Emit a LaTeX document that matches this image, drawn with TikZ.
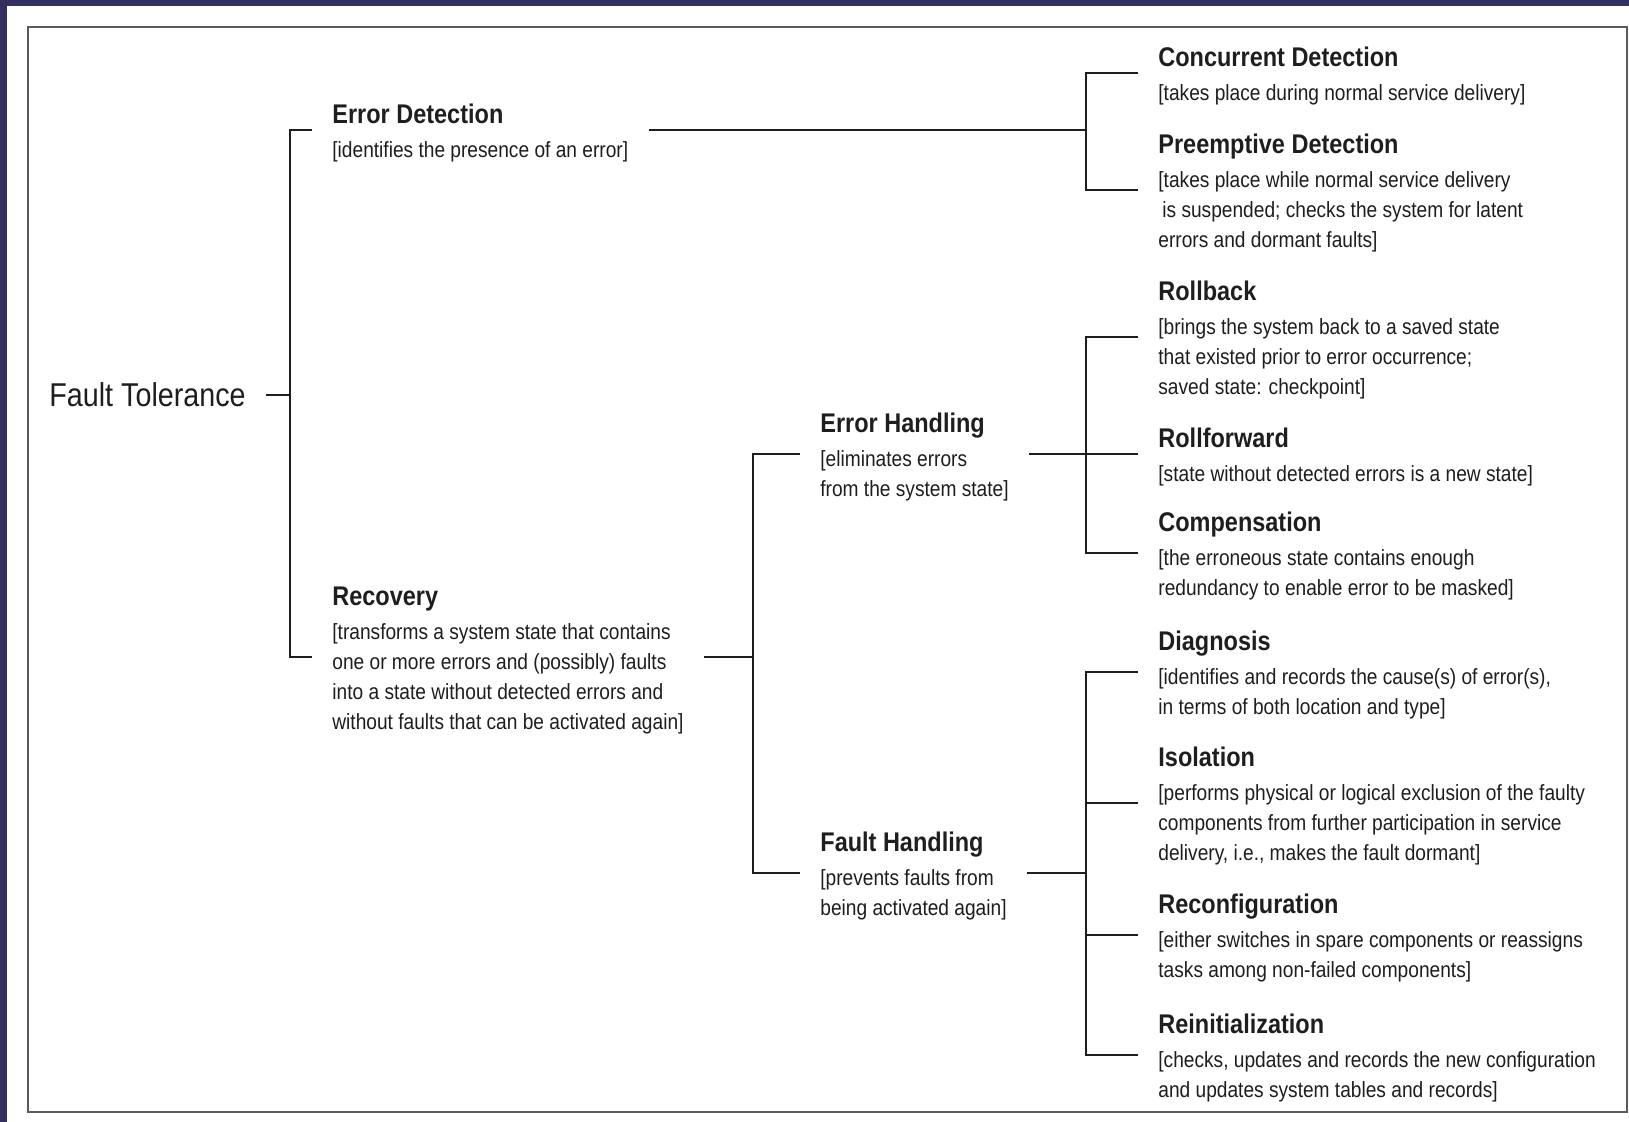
\documentclass[tikz,border=0pt]{standalone}
\usepackage{fontspec}
\setmainfont[FakeStretch=0.87]{Liberation Sans}
\usetikzlibrary{positioning}

\definecolor{navy}{HTML}{33305F}
\definecolor{framegray}{HTML}{5A5A5A}
\definecolor{ink}{HTML}{1E1E1E}

\newcommand{\hd}[1]{{\fontsize{13.5}{17}\selectfont\bfseries\rule{0pt}{13pt}#1}\\[2pt]}

\tikzset{
  item/.style={anchor=west, inner xsep=10pt, inner ysep=0pt, align=left,
    text=ink, font=\fontsize{11}{15}\selectfont},
  link/.style={draw=ink, line width=1pt},
}

\begin{document}
\begin{tikzpicture}[x=0.5pt, y=-0.5pt]
  % background and frame
  \useasboundingbox (0,0) rectangle (1629,1122);
  \fill[navy] (0,0) rectangle (1629,1122);
  \fill[white] (7,6) rectangle (1629,1122);
  \draw[framegray, line width=1.3pt] (28,27) rectangle (1627,1112);

  % root
  \node[item, font=\fontsize{16.5}{20}\selectfont] (ft) at (29,395) {Fault Tolerance};

  % second level
  \node[item] (ed) at (312,130) {\hd{Error Detection}[identifies the presence of an error]};
  \node[item] (rc) at (312,657) {\hd{Recovery}[transforms a system state that contains\\
    one or more errors and (possibly) faults\\
    into a state without detected errors and\\
    without faults that can be activated again]};

  % third level
  \node[item] (eh) at (800,454) {\hd{Error Handling}[eliminates errors\\from the system state]};
  \node[item] (fh) at (800,873) {\hd{Fault Handling}[prevents faults from\\being activated again]};

  % leaves
  \node[item] (cd) at (1138,73) {\hd{Concurrent Detection}[takes place during normal service delivery]};
  \node[item] (pd) at (1138,190) {\hd{Preemptive Detection}[takes place while normal service delivery\\
    \hspace{2pt}is suspended; checks the system for latent\\
    errors and dormant faults]};
  \node[item] (rb) at (1138,337) {\hd{Rollback}[brings the system back to a saved state\\
    that existed prior to error occurrence;\\
    saved state: checkpoint]};
  \node[item] (rf) at (1138,454) {\hd{Rollforward}[state without detected errors is a new state]};
  \node[item] (cp) at (1138,553) {\hd{Compensation}[the erroneous state contains enough\\
    redundancy to enable error to be masked]};
  \node[item] (dg) at (1138,672) {\hd{Diagnosis}[identifies and records the cause(s) of error(s),\\
    in terms of both location and type]};
  \node[item] (is) at (1138,803) {\hd{Isolation}[performs physical or logical exclusion of the faulty\\
    components from further participation in service\\
    delivery, i.e., makes the fault dormant]};
  \node[item] (rcf) at (1138,935) {\hd{Reconfiguration}[either switches in spare components or reassigns\\
    tasks among non-failed components]};
  \node[item] (ri) at (1138,1055) {\hd{Reinitialization}[checks, updates and records the new configuration\\
    and updates system tables and records]};

  % brackets
  \draw[link] (ed.west) -- ++(-22,0) coordinate (j1) |- (rc.west);
  \draw[link] (ft.east) -- (ft.east -| j1);

  \draw[link] (cd.west) -- ++(-52,0) coordinate (j2) |- (pd.west);
  \draw[link] (ed.east) -- (ed.east -| j2);

  \draw[link] (eh.west) -- ++(-47,0) coordinate (j3) |- (fh.west);
  \draw[link] (rc.east) -- (rc.east -| j3);

  \draw[link] (rb.west) -- ++(-52,0) coordinate (j4) |- (cp.west);
  \draw[link] (rf.west) -- (j4 |- rf.west);
  \draw[link] (eh.east) -- (eh.east -| j4);

  \draw[link] (dg.west) -- ++(-52,0) coordinate (j5) |- (ri.west);
  \draw[link] (is.west) -- (j5 |- is.west);
  \draw[link] (rcf.west) -- (j5 |- rcf.west);
  \draw[link] (fh.east) -- (fh.east -| j5);
\end{tikzpicture}
\end{document}
